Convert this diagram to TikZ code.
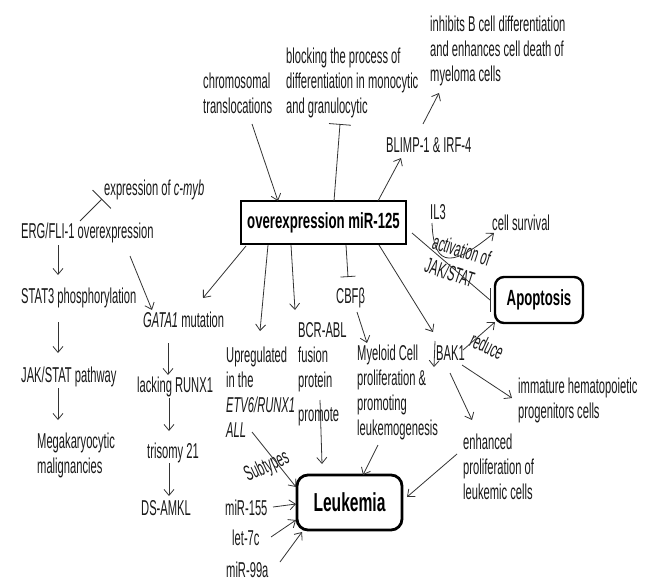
\documentclass[tikz,border=0pt]{standalone}
\usepackage{fontspec}
\setmainfont{Liberation Sans}[FakeStretch=0.52]
\newfontfamily\boldfam{Liberation Sans}[FakeStretch=0.6]
\usetikzlibrary{arrows.meta}
\begin{document}
\begin{tikzpicture}[x=1pt,y=-1pt,
 txt/.style={inner sep=0pt, anchor=west, align=left, font=\fontsize{21.5}{25}\selectfont, text=black!90},
 rtxt/.style={inner sep=0pt, align=left, font=\fontsize{21.5}{25}\selectfont, text=black!90},
 arr/.style={draw=black!80, line width=0.8pt, -{Straight Barb[length=6pt,width=10pt,line width=0.8pt]}},
 inh/.style={draw=black!80, line width=0.8pt, -{Bar[width=#1,line width=0.8pt]}},
 plain/.style={draw=black!80, line width=0.8pt},
 mainbox/.style={draw, line width=1.2pt, minimum width=165pt, minimum height=43pt, inner sep=0pt, font=\boldfam\bfseries\fontsize{22}{25}\selectfont},
 endbox/.style={draw, line width=2.4pt, inner sep=0pt}]
\useasboundingbox (0,0) rectangle (651,583);

% boxes
\node[mainbox] (mir) at (323.5,222.5) {overexpression miR-125};
\node[endbox, rounded corners=11pt, line width=2.8pt, minimum width=105pt, minimum height=55pt, font=\boldfam\bfseries\fontsize{26}{28}\selectfont] (leuk) at (349.5,502.5) {Leukemia};
\node[endbox, rounded corners=9pt, minimum width=88pt, minimum height=46pt, font=\boldfam\bfseries\fontsize{22}{25}\selectfont] (apop) at (539,300) {Apoptosis};

% text nodes
\node[txt] (chrom) at (203,93) {chromosomal\\translocations};
\node[txt] (block) at (286,83) {blocking the process of\\differentiation in monocytic\\and granulocytic};
\node[txt] (inhib) at (430,51) {inhibits B cell differentiation\\and enhances cell death of\\myeloma cells};
\node[txt] (blimp) at (386,145) {BLIMP-1 \& IRF-4};
\node[txt] (cmyb) at (104,190) {expression of \textit{c-myb}};
\node[txt] (erg) at (21,233) {ERG/FLI-1 overexpression};
\node[txt] (stat3) at (21,298) {STAT3 phosphorylation};
\node[txt] (jak) at (21,377) {JAK/STAT pathway};
\node[txt] (mega) at (37,455) {Megakaryocytic\\malignancies};
\node[txt] (gata) at (143,320) {\textit{GATA1} mutation};
\node[txt] (runx) at (137,387) {lacking RUNX1};
\node[txt] (tris) at (147,453) {trisomy 21};
\node[txt] (ds) at (141,508) {DS-AMKL};
\node[txt] (upreg) at (226,392) {Upregulated\\in the\\\textit{ETV6/RUNX1}\\\textit{ALL}};
\node[txt] (bcr) at (298,357) {BCR-ABL\\fusion\\protein};
\node[txt] (prom) at (298,417) {promote};
\node[txt] (cbf) at (336,298) {CBFβ};
\node[txt] (myel) at (357,392) {Myeloid Cell\\proliferation \&\\promoting\\leukemogenesis};
\node[txt] (bak) at (436,353) {BAK1};
\node[txt] (imm) at (518,400) {immature hematopoietic\\progenitors cells};
\node[txt] (enh) at (463,467) {enhanced\\proliferation of\\leukemic cells};
\node[txt] (m155) at (225,508) {miR-155};
\node[txt] (let) at (232,538) {let-7c};
\node[txt] (m99) at (226,570) {miR-99a};
\node[txt] (il3) at (430,212) {IL3};
\node[txt] (cs) at (492,223) {cell survival};
\node[rtxt, rotate=-18] (act) at (458,262) {activation of\\JAK/STAT};
\node[rtxt, rotate=25] (subt) at (267,467) {Subtypes};
\node[rtxt, rotate=-25] (red) at (487,346) {reduce};

% connectors
\draw[arr] ([shift={(49,31)}]chrom.west) -- ([shift={(-45.5,-21.5)}]mir.center);
\draw[inh=22pt] ([shift={(10.5,-21.5)}]mir.center) -- ([shift={(54,41)}]block.west);
\draw[arr] ([shift={(54.5,-21.5)}]mir.center) -- ([shift={(15,13)}]blimp.west);
\draw[arr] ([shift={(37,-21)}]blimp.west) -- ([shift={(9,42)}]inhib.west);
\draw[inh=26pt] ([shift={(59,-12)}]erg.west) -- ([shift={(-2,9)}]cmyb.west);
\draw[arr] ([shift={(37,12)}]erg.west) -- ([shift={(37,-23)}]stat3.west);
\draw[arr] ([shift={(37,24)}]stat3.west) -- ([shift={(37,-24)}]jak.west);
\draw[arr] ([shift={(37,11)}]jak.west) -- ([shift={(21,-35)}]mega.west);
\draw[arr] ([shift={(109,23)}]erg.west) -- ([shift={(9,-10)}]gata.west);
\draw[arr] ([shift={(-77.5,23.5)}]mir.center) -- ([shift={(60,-22)}]gata.west);
\draw[arr] ([shift={(25,23)}]gata.west) -- ([shift={(31,-12)}]runx.west);
\draw[arr] ([shift={(32,11)}]runx.west) -- ([shift={(22,-22)}]tris.west);
\draw[arr] ([shift={(22,10)}]tris.west) -- ([shift={(28,-12)}]ds.west);
\draw[arr] ([shift={(-55.5,22.5)}]mir.center) -- ([shift={(34,-61)}]upreg.west);
\draw[arr] ([shift={(26,40)}]upreg.west) -- ([shift={(-53.5,-15.5)}]leuk.center);
\draw[arr] ([shift={(-32.5,22.5)}]mir.center) -- ([shift={(-3,-47)}]bcr.west);
\draw[arr] ([shift={(22,43)}]bcr.west) -- ([shift={(-27.5,-38.5)}]leuk.center);
\draw[inh=15pt] ([shift={(22.5,22.5)}]mir.center) -- ([shift={(12,-21)}]cbf.west);
\draw[arr] ([shift={(21,14)}]cbf.west) -- ([shift={(10,-49)}]myel.west);
\draw[arr] ([shift={(21,53)}]myel.west) -- ([shift={(13.5,-27.5)}]leuk.center);
\draw[arr] ([shift={(55.5,22.5)}]mir.center) -- ([shift={(-3,-21)}]bak.west);
\draw[arr] ([shift={(-1,-12)}]bak.west) -- ([shift={(-2,14)}]bak.west);
\draw[arr] ([shift={(27,-3)}]bak.west) -- ([shift={(-44,22)}]apop.center);
\draw[arr] ([shift={(26,12)}]bak.west) -- ([shift={(-6,-2)}]imm.west);
\draw[arr] ([shift={(14,20)}]bak.west) -- ([shift={(9,-47)}]enh.west);
\draw[arr] ([shift={(-6,-13)}]enh.west) -- ([shift={(57.5,-5.5)}]leuk.center);
\draw[arr] ([shift={(48,-1)}]m155.west) -- ([shift={(-53.5,1.5)}]leuk.center);
\draw[arr] ([shift={(39,-1)}]let.west) -- ([shift={(-53.5,17.5)}]leuk.center);
\draw[arr] ([shift={(54,-8)}]m99.west) -- ([shift={(-47.5,29.5)}]leuk.center);
\draw[plain] ([shift={(88.5,10.5)}]mir.center) -- ([shift={(-49,0)}]apop.center);
\draw[plain] ([shift={(-49,-12)}]apop.center) -- ([shift={(-49,12)}]apop.center);
\draw[arr] ([shift={(2,11)}]il3.west) to[out=-88,in=219,looseness=2] ([shift={(2,10)}]cs.west);
\end{tikzpicture}
\end{document}
